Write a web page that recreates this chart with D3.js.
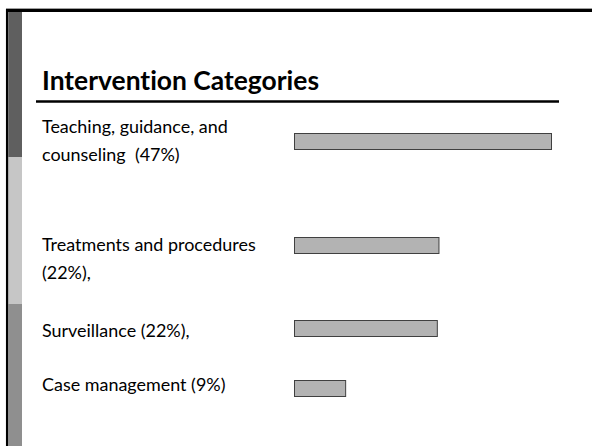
<!DOCTYPE html>
<html>
<head>
<meta charset="utf-8">
<script src="https://cdn.jsdelivr.net/npm/d3@7"></script>
<style>
  html, body { margin: 0; padding: 0; background: #fff; }
  svg { display: block; }
  text { white-space: pre; font-variant-ligatures: none; }
</style>
</head>
<body>
<div id="slide"></div>
<script>
// slide data
let title = "Intervention Categories";
let categories = ["Teaching", "Treatments", "Surveillance", "Case management"];
let labelLines = [
    ["Teaching, guidance, and", "counseling  (47%)"],
    ["Treatments and procedures", "(22%),"],
    ["Surveillance (22%),"],
    ["Case management (9%)"]
];
// bar lengths as drawn (in % units of the longest bar)
let barLen = [47, 26.5, 26.2, 9.5];

let W = 592, H = 446;
let svg = d3.select("#slide").append("svg")
    .attr("width", W).attr("height", H);

svg.append("rect").attr("width", W).attr("height", H).attr("fill", "#fff");

// frame (top + left) and side stripe
svg.append("line")
    .attr("x1", 6).attr("x2", W).attr("y1", 10.5).attr("y2", 10.5)
    .attr("stroke", "#000").attr("stroke-width", 3);
svg.append("line")
    .attr("x1", 6).attr("x2", W).attr("y1", 8.5).attr("y2", 8.5)
    .attr("stroke", "#a0a0a0").attr("stroke-width", 1);
svg.append("line")
    .attr("x1", 7.2).attr("x2", 7.2).attr("y1", 9).attr("y2", H)
    .attr("stroke", "#000").attr("stroke-width", 2.5);

let stripe = [
    {y0: 12, y1: 157, c: "#5f5f5f"},
    {y0: 157, y1: 304, c: "#c6c6c6"},
    {y0: 304, y1: H, c: "#8f8f8f"}
];
svg.selectAll("rect.stripe").data(stripe).enter().append("rect")
    .attr("class", "stripe")
    .attr("x", 8.5).attr("width", 13.5)
    .attr("y", d => d.y0).attr("height", d => d.y1 - d.y0)
    .attr("fill", d => d.c);

// Lato is the closest installed face to the slide's Calibri
let fam = "Lato, Open Sans, sans-serif";

function fitSize(txt, weight, target) {
    let p = svg.append("text").attr("font-family", fam).attr("font-weight", weight)
        .attr("font-size", 20).text(txt);
    let w = p.node().getComputedTextLength();
    p.remove();
    return 20 * target / w;
}

// "Intervention" measures ~145px on the slide
svg.append("text")
    .attr("x", 42).attr("y", 90)
    .attr("font-family", fam).attr("font-weight", "bold")
    .attr("font-size", fitSize("Intervention", "bold", 145)).attr("fill", "#000")
    .text(title);

svg.append("line")
    .attr("x1", 36).attr("x2", 559).attr("y1", 101.5).attr("y2", 101.5)
    .attr("stroke", "#000").attr("stroke-width", 2.5);

// labels
let bodySize = fitSize("Teaching, guidance, and", "normal", 186);
let baselines = [[133, 161], [251, 278.5], [337], [390.5]];
let lbl = svg.selectAll("g.lbl").data(categories).enter().append("g").attr("class", "lbl");
lbl.each(function(d, i) {
    d3.select(this).selectAll("text").data(labelLines[i]).enter().append("text")
        .attr("x", 42)
        .attr("y", (t, j) => baselines[i][j])
        .attr("font-family", fam).attr("font-size", bodySize)
        .attr("fill", "#000")
        .text(t => t);
});

// bars
let x = d3.scaleLinear().domain([0, 47]).range([294, 552]);
let y = d3.scaleOrdinal().domain(categories).range([133, 237, 320, 380]);
let bh = 17;

svg.selectAll("rect.bar").data(categories).enter().append("rect")
    .attr("class", "bar")
    .attr("x", x(0) + 0.5)
    .attr("y", d => y(d) + 0.5)
    .attr("width", (d, i) => x(barLen[i]) - x(0) - 1)
    .attr("height", bh - 1)
    .attr("fill", "#b3b3b3")
    .attr("stroke", "#404040")
    .attr("stroke-width", 1);
</script>
</body>
</html>
